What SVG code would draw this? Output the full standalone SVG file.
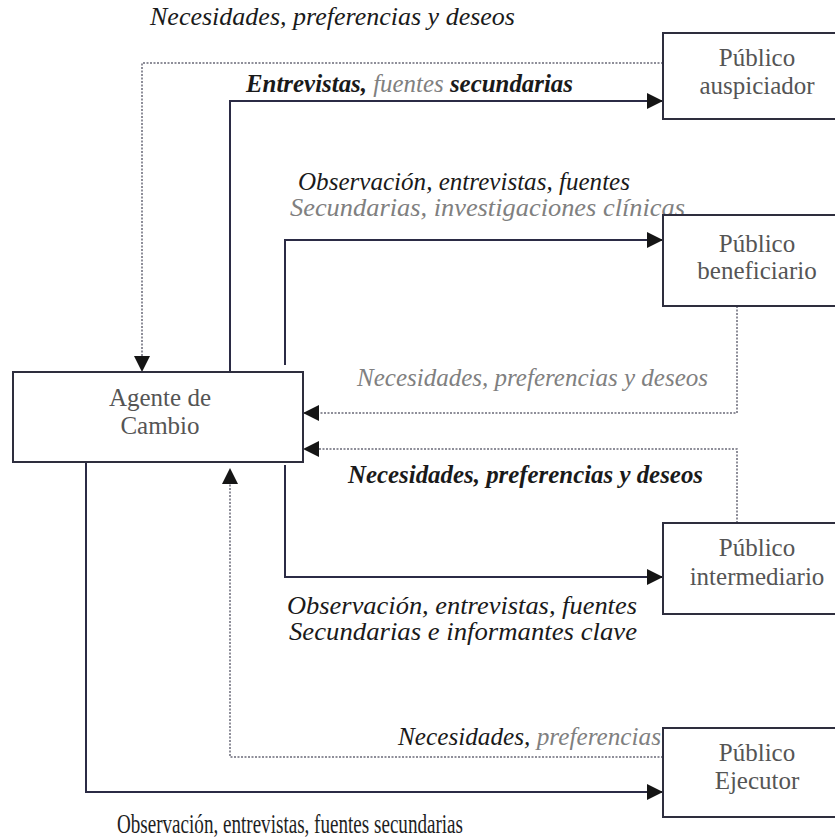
<svg xmlns="http://www.w3.org/2000/svg" width="835" height="839" viewBox="0 0 835 839">
<style>
.box{fill:#fff;stroke:#2e2e3e;stroke-width:2}
.bt{font-family:"Liberation Serif","Times New Roman",serif;font-size:25px;fill:#555;text-anchor:middle}
.sol{fill:none;stroke:#2b2b45;stroke-width:2}
.dot{fill:none;stroke:#6a6a78;stroke-width:1.5;stroke-dasharray:2 1.5}
.lb{font-family:"Liberation Serif","Times New Roman",serif;font-size:25px;font-style:italic;fill:#1a1a1a}
.g{fill:#808080}
.b{font-weight:bold}
</style>
<defs>
<marker id="ah" viewBox="0 0 16 16" refX="15" refY="8" markerWidth="16" markerHeight="16" orient="auto" markerUnits="userSpaceOnUse">
<path d="M0,0 L16,8 L0,16 z" fill="#151515"/>
</marker>
</defs>
<rect width="835" height="839" fill="#fff"/>
<g id="connectors">
<path class="dot" d="M663,63 H142 V371" marker-end="url(#ah)"/>
<path class="sol" d="M230,372 V101 H662" marker-end="url(#ah)"/>
<path class="sol" d="M285,365 V240 H662" marker-end="url(#ah)"/>
<path class="dot" d="M737,306 V413 H304" marker-end="url(#ah)"/>
<path class="dot" d="M737,523 V449 H304" marker-end="url(#ah)"/>
<path class="sol" d="M285,465 V577 H662" marker-end="url(#ah)"/>
<path class="dot" d="M663,757 H230 V469" marker-end="url(#ah)"/>
<path class="sol" d="M86,462 V792 H662" marker-end="url(#ah)"/>
</g>
<g id="labels">
<text class="lb" x="150" y="25" textLength="365" lengthAdjust="spacingAndGlyphs">Necesidades, preferencias y deseos</text>
<text class="lb b" x="246" y="92" textLength="327" lengthAdjust="spacingAndGlyphs">Entrevistas, <tspan class="g" font-weight="normal">fuentes</tspan> secundarias</text>
<text class="lb" x="298" y="190" textLength="332" lengthAdjust="spacingAndGlyphs">Observación, entrevistas, fuentes</text>
<text class="lb g" x="290" y="216" textLength="395" lengthAdjust="spacingAndGlyphs">Secundarias, investigaciones  clínicas</text>
<text class="lb g" x="357" y="386" textLength="351" lengthAdjust="spacingAndGlyphs">Necesidades, preferencias y deseos</text>
<text class="lb b" x="348" y="483" textLength="355" lengthAdjust="spacingAndGlyphs">Necesidades, preferencias y deseos</text>
<text class="lb" x="287" y="614" textLength="350" lengthAdjust="spacingAndGlyphs">Observación, entrevistas, fuentes</text>
<text class="lb" x="289" y="640" textLength="348" lengthAdjust="spacingAndGlyphs">Secundarias e informantes clave</text>
<text class="lb" x="398" y="745" textLength="263" lengthAdjust="spacingAndGlyphs">Necesidades, <tspan class="g">preferencias</tspan></text>
<text x="117" y="833" font-family="Liberation Serif, Times New Roman, serif" font-size="27" fill="#1e1e1e" textLength="346" lengthAdjust="spacingAndGlyphs">Observación, entrevistas, fuentes secundarias</text>
</g>
<g id="agente">
<rect class="box" x="13" y="372" width="290" height="90"/>
<text class="bt" x="160" y="406">Agente de</text>
<text class="bt" x="160" y="434">Cambio</text>
</g>
<g id="auspiciador">
<rect class="box" x="663" y="33" width="185" height="86"/>
<text class="bt" x="757" y="66">Público</text>
<text class="bt" x="757" y="94">auspiciador</text>
</g>
<g id="beneficiario">
<rect class="box" x="663" y="215" width="185" height="91"/>
<text class="bt" x="757" y="252">Público</text>
<text class="bt" x="757" y="279">beneficiario</text>
</g>
<g id="intermediario">
<rect class="box" x="663" y="523" width="185" height="91"/>
<text class="bt" x="757" y="556">Público</text>
<text class="bt" x="757" y="585">intermediario</text>
</g>
<g id="ejecutor">
<rect class="box" x="663" y="728" width="185" height="89"/>
<text class="bt" x="757" y="761">Público</text>
<text class="bt" x="757" y="789">Ejecutor</text>
</g>
</svg>
